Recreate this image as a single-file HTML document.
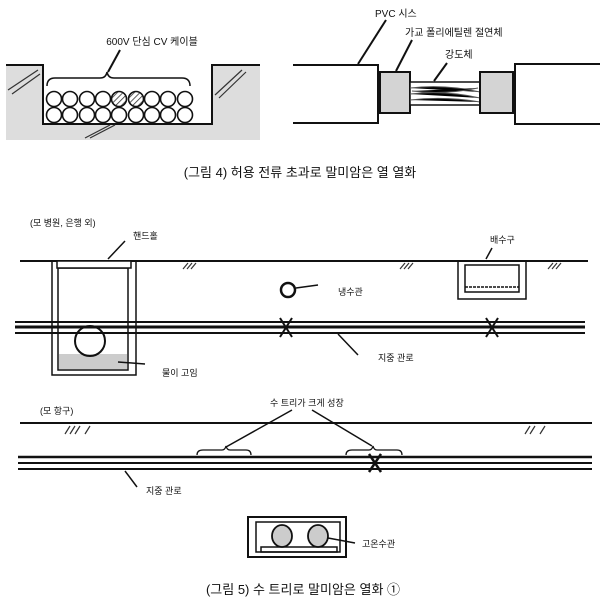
<!DOCTYPE html>
<html><head><meta charset="utf-8"><style>
body{margin:0;background:#fff}
svg{display:block}
text{font-family:"Liberation Sans","Noto Sans CJK KR",sans-serif;fill:#111}
</style></head><body>
<svg width="606" height="604" viewBox="0 0 606 604" xmlns="http://www.w3.org/2000/svg">
<defs>
<pattern id="h" width="4" height="4" patternUnits="userSpaceOnUse" patternTransform="rotate(45)"><rect width="4" height="4" fill="#fff"/><line x1="0" y1="0" x2="0" y2="4" stroke="#333" stroke-width="1.6"/></pattern>
</defs>
<!-- Fig 4 left -->
<rect x="6" y="65" width="254" height="75" fill="#ddd"/>
<rect x="43" y="65" width="169" height="59" fill="#fff"/>
<polyline points="6,65 43,65 43,124 212,124 212,65 260,65" fill="none" stroke="#111" stroke-width="2"/>
<g fill="#fff" stroke="#111" stroke-width="1.6">
<circle cx="54" cy="99" r="7.5"/><circle cx="70" cy="99" r="7.5"/><circle cx="87" cy="99" r="7.5"/><circle cx="103" cy="99" r="7.5"/><circle cx="119" cy="99" r="7.5" fill="url(#h)"/><circle cx="136" cy="99" r="7.5" fill="url(#h)"/><circle cx="152" cy="99" r="7.5"/><circle cx="168" cy="99" r="7.5"/><circle cx="185" cy="99" r="7.5"/>
<circle cx="54" cy="115" r="7.5"/><circle cx="70" cy="115" r="7.5"/><circle cx="87" cy="115" r="7.5"/><circle cx="103" cy="115" r="7.5"/><circle cx="119" cy="115" r="7.5"/><circle cx="136" cy="115" r="7.5"/><circle cx="152" cy="115" r="7.5"/><circle cx="168" cy="115" r="7.5"/><circle cx="185" cy="115" r="7.5"/>
</g>
<path d="M47,86 Q47,78 55,78 L100,78 Q106,78 107,72 Q108,78 114,78 L182,78 Q190,78 190,86" fill="none" stroke="#111" stroke-width="1.5"/>
<line x1="120" y1="50" x2="108" y2="72" stroke="#111" stroke-width="2"/>
<g stroke="#333" stroke-width="1.2"><line x1="8" y1="90" x2="38" y2="70"/><line x1="12" y1="94" x2="40" y2="74"/><line x1="215" y1="95" x2="242" y2="70"/><line x1="219" y1="98" x2="246" y2="72"/><line x1="85" y1="138" x2="110" y2="125"/><line x1="90" y1="138" x2="115" y2="125"/></g>
<text x="152" y="45" font-size="10" text-anchor="middle">600V 단심 CV 케이블</text>
<!-- Fig 4 right -->
<polyline points="293,65 378,65 378,123 293,123" fill="none" stroke="#111" stroke-width="2"/>
<rect x="380" y="72" width="30" height="41" fill="#d4d4d4" stroke="#111" stroke-width="2"/>
<rect x="410" y="82" width="70" height="23" fill="#fff" stroke="#111" stroke-width="1.5"/>
<g stroke="#555" stroke-width="1"><path d="M410,88 Q445,84 480,92"/><path d="M410,94 Q445,90 480,98"/><path d="M410,100 Q445,96 480,102"/><path d="M412,91 Q445,95 478,88"/></g>
<rect x="480" y="72" width="33" height="41" fill="#d4d4d4" stroke="#111" stroke-width="2"/>
<polyline points="600,64 515,64 515,124 600,124" fill="none" stroke="#111" stroke-width="2"/>
<line x1="386" y1="20" x2="358" y2="64" stroke="#111" stroke-width="2"/>
<line x1="412" y1="40" x2="396" y2="71" stroke="#111" stroke-width="2"/>
<line x1="447" y1="63" x2="434" y2="81" stroke="#111" stroke-width="2"/>
<text x="375" y="17" font-size="10">PVC 시스</text>
<text x="405" y="36" font-size="10">가교 폴리에틸렌 절연체</text>
<text x="445" y="58" font-size="10">강도체</text>
<text x="300" y="177" font-size="13" text-anchor="middle">(그림 4) 허용 전류 초과로 말미암은 열 열화</text>
<!-- Fig 5 top -->
<text x="30" y="226" font-size="9">(모 병원, 은행 외)</text>
<text x="133" y="239" font-size="9">핸드홀</text>
<text x="490" y="243" font-size="9">배수구</text>
<line x1="20" y1="261" x2="588" y2="261" stroke="#111" stroke-width="2"/>
<line x1="125" y1="241" x2="108" y2="259" stroke="#111" stroke-width="1.5"/>
<line x1="492" y1="248" x2="486" y2="259" stroke="#111" stroke-width="1.5"/>
<rect x="52" y="261" width="84" height="114" fill="none" stroke="#111" stroke-width="1.5"/>
<rect x="58" y="268" width="70" height="102" fill="none" stroke="#111" stroke-width="1.5"/>
<rect x="57" y="261" width="74" height="7" fill="#fff" stroke="#111" stroke-width="1.5"/>
<path d="M59,354 L127,354 L127,369 L59,369Z" fill="#ccc"/>
<circle cx="90" cy="341" r="15" fill="none" stroke="#111" stroke-width="2"/>
<rect x="458" y="261" width="68" height="38" fill="none" stroke="#111" stroke-width="1.5"/>
<rect x="465" y="265" width="54" height="27" fill="none" stroke="#111" stroke-width="1.5"/>
<line x1="465" y1="287" x2="519" y2="287" stroke="#111" stroke-width="1.5" stroke-dasharray="3,1"/>
<circle cx="288" cy="290" r="7" fill="none" stroke="#111" stroke-width="2.5"/>
<line x1="296" y1="288" x2="318" y2="285" stroke="#111" stroke-width="1.5"/>
<text x="338" y="295" font-size="9">냉수관</text>
<g stroke="#111" stroke-width="2"><line x1="15" y1="322" x2="585" y2="322"/><line x1="15" y1="327" x2="585" y2="327" stroke-width="3"/><line x1="15" y1="333" x2="585" y2="333"/></g>
<g stroke="#111" stroke-width="2"><line x1="280" y1="318" x2="292" y2="337"/><line x1="292" y1="318" x2="280" y2="337"/><line x1="486" y1="318" x2="498" y2="337"/><line x1="498" y1="318" x2="486" y2="337"/></g>
<line x1="338" y1="334" x2="358" y2="355" stroke="#111" stroke-width="1.5"/>
<text x="378" y="361" font-size="9">지중 관로</text>
<line x1="118" y1="362" x2="145" y2="364" stroke="#111" stroke-width="1.5"/>
<text x="162" y="376" font-size="9">물이 고임</text>
<g stroke="#333" stroke-width="1.2"><line x1="183" y1="269" x2="188" y2="263"/><line x1="187" y1="269" x2="192" y2="263"/><line x1="191" y1="269" x2="196" y2="263"/><line x1="400" y1="269" x2="405" y2="263"/><line x1="404" y1="269" x2="409" y2="263"/><line x1="408" y1="269" x2="413" y2="263"/><line x1="548" y1="269" x2="553" y2="263"/><line x1="552" y1="269" x2="557" y2="263"/><line x1="556" y1="269" x2="561" y2="263"/></g>
<!-- Fig 5 bottom -->
<text x="40" y="414" font-size="9">(모 항구)</text>
<text x="270" y="406" font-size="9">수 트리가 크게 성장</text>
<line x1="20" y1="423" x2="592" y2="423" stroke="#111" stroke-width="2"/>
<g stroke="#333" stroke-width="1.2"><line x1="65" y1="434" x2="70" y2="426"/><line x1="70" y1="434" x2="75" y2="426"/><line x1="75" y1="434" x2="80" y2="426"/><line x1="85" y1="434" x2="90" y2="426"/><line x1="525" y1="434" x2="530" y2="426"/><line x1="530" y1="434" x2="535" y2="426"/><line x1="540" y1="434" x2="545" y2="426"/></g>
<line x1="292" y1="410" x2="226" y2="447" stroke="#111" stroke-width="1.5"/>
<line x1="312" y1="410" x2="372" y2="446" stroke="#111" stroke-width="1.5"/>
<path d="M197,455 Q197,450 203,450 L222,450 Q225,450 226,446 Q227,450 230,450 L246,450 Q251,450 251,455" fill="none" stroke="#111" stroke-width="1.3"/>
<path d="M346,455 Q346,450 352,450 L369,450 Q372,450 373,446 Q374,450 377,450 L397,450 Q402,450 402,455" fill="none" stroke="#111" stroke-width="1.3"/>
<g stroke="#111" stroke-width="2"><line x1="18" y1="457" x2="592" y2="457" stroke-width="2.5"/><line x1="18" y1="463" x2="592" y2="463"/><line x1="18" y1="469" x2="592" y2="469"/></g>
<g stroke="#111" stroke-width="2.5"><line x1="369" y1="454" x2="381" y2="472"/><line x1="381" y1="454" x2="369" y2="472"/></g>
<line x1="125" y1="471" x2="137" y2="487" stroke="#111" stroke-width="1.5"/>
<text x="146" y="494" font-size="9">지중 관로</text>
<rect x="248" y="517" width="98" height="40" fill="none" stroke="#111" stroke-width="2"/>
<rect x="256" y="522" width="84" height="30" fill="none" stroke="#111" stroke-width="1.5"/>
<rect x="261" y="547" width="76" height="5" fill="none" stroke="#111" stroke-width="1.5"/>
<ellipse cx="282" cy="536" rx="10" ry="11" fill="#ccc" stroke="#111" stroke-width="1.8"/>
<ellipse cx="318" cy="536" rx="10" ry="11" fill="#ccc" stroke="#111" stroke-width="1.8"/>
<line x1="328" y1="538" x2="355" y2="543" stroke="#111" stroke-width="1.5"/>
<text x="362" y="547" font-size="9">고온수관</text>
<text x="303" y="594" font-size="13" text-anchor="middle">(그림 5) 수 트리로 말미암은 열화 ①</text>
</svg>
</body></html>
